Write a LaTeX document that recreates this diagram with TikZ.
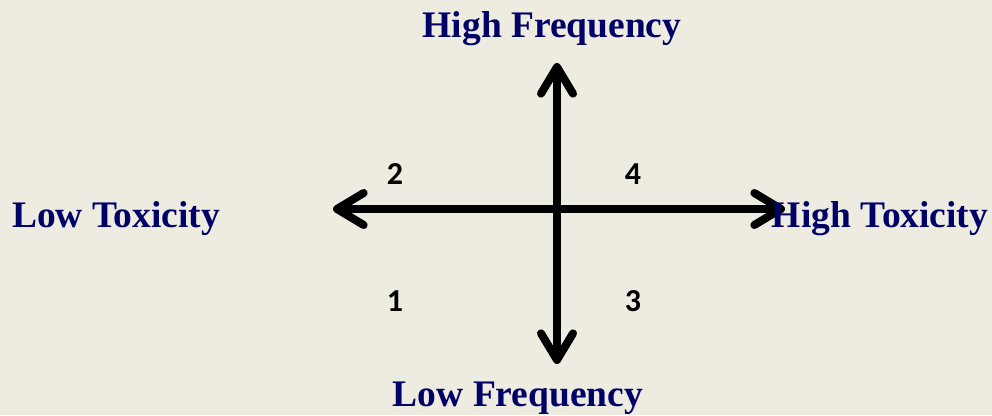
\documentclass[tikz,border=0pt]{standalone}
\usepackage{fontspec}
\setmainfont{Liberation Serif}
\newfontfamily\numfont{Carlito}
\usepackage{tikz}
\usetikzlibrary{positioning,arrows.meta}
\usepackage{xcolor}
\definecolor{paper}{RGB}{238,235,224}
\definecolor{navytext}{RGB}{0,0,102}

\begin{document}
\begin{tikzpicture}[x=0.75pt,y=-0.75pt,
  axislabel/.style={inner sep=0pt,anchor=base,text=navytext,
    font=\fontsize{28.1}{30}\selectfont\bfseries},
  quadrant/.style={inner sep=0pt,anchor=base,text=black,
    font=\numfont\fontsize{24}{26}\selectfont\bfseries},
  axis/.style={{Straight Barb[length=20pt,width=24pt,round]}-{Straight Barb[length=20pt,width=24pt,round]},
    line width=6pt,black}
]
\fill[paper] (0,0) rectangle (992,415);
\useasboundingbox (0,0) rectangle (992,415);

% axis ends
\coordinate (N) at (557,63);
\coordinate (S) at (557,364);
\coordinate (W) at (333,209);
\coordinate (E) at (785,209);

\draw[axis] (W) -- (E);
\draw[axis] (S) -- (N);

% axis labels
\node[axislabel] (hifreq) at (552,37) {High Frequency};
\node[axislabel] (lofreq) at (518,406) {Low Frequency};
\node[axislabel] (lotox) at (116,227) {Low Toxicity};
\node[axislabel] (hitox) at (880,227) {High Toxicity};

% quadrant numbers
\node[quadrant] (q2) at (395,184) {2};
\node[quadrant] (q4) at (633,184) {4};
\node[quadrant] (q1) at (395,311) {1};
\node[quadrant] (q3) at (633,311) {3};
\end{tikzpicture}
\end{document}
